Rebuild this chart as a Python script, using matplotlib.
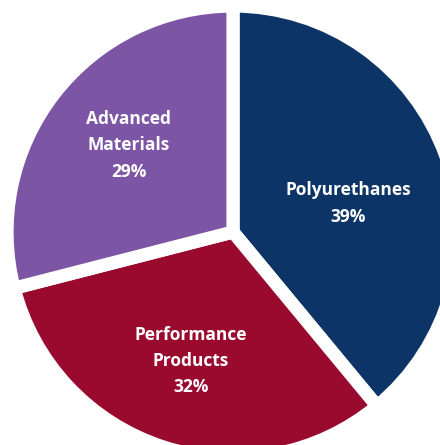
import numpy as np
import matplotlib
matplotlib.use("Agg")
import matplotlib.pyplot as plt

labels = ["Polyurethanes", "Performance\nProducts", "Advanced\nMaterials"]
values = [39, 32, 29]
colors = ["#0c3466", "#990a2e", "#7d55a5"]
label_dist = [0.525, 0.60, 0.60]
label_rot = [-6, 0, -2]

W, H = 440, 445
cx, cy = 233, 232   # pie centre in pixels
scale = 226.0       # px per data unit

fig = plt.figure(figsize=(W / 100, H / 100), dpi=100)
ax = fig.add_axes([0, 0, 1, 1])
wedges, _ = ax.pie(values, colors=colors, startangle=90, counterclock=False,
                   radius=1.0, center=(0, 0),
                   wedgeprops=dict(edgecolor="white", linewidth=9.5))
for w, lab, val, d, r in zip(wedges, labels, values, label_dist, label_rot):
    ang = np.deg2rad((w.theta1 + w.theta2) / 2 + r)
    ax.text(d * np.cos(ang), d * np.sin(ang), f"{lab}\n{val}%",
            ha="center", va="center", color="white", fontsize=12.5,
            fontweight="bold", family="Open Sans", linespacing=1.6)
ax.set_xlim(-cx / scale, (W - cx) / scale)
ax.set_ylim(-(H - cy) / scale, cy / scale)
ax.set_aspect("equal")
ax.axis("off")
fig.savefig("out.png", dpi=100)
